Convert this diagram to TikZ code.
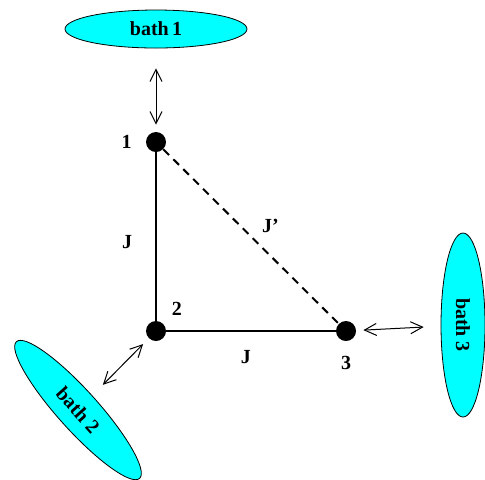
\documentclass[tikz,border=0pt]{standalone}
\usepackage{fontspec}
\setmainfont{Liberation Serif}
\usetikzlibrary{positioning, shapes.geometric, arrows.meta}
\definecolor{bathcyan}{RGB}{0,255,255}
\tikzset{
    site/.style={circle, fill=black, inner sep=0pt, minimum size=10pt},
    bath/.style={ellipse, draw, thin, fill=bathcyan, inner sep=0pt, font=\bfseries\fontsize{10}{12}\selectfont},
    numlabel/.style={font=\bfseries\fontsize{10}{12}\selectfont},
    bond/.style={line width=1.2pt},
    weakbond/.style={line width=1pt, dash pattern=on 4pt off 3pt},
    exchange/.style={{Straight Barb[length=6pt,width=6pt]}-{Straight Barb[length=6pt,width=6pt]}, line width=0.5pt}
}

\begin{document}
\begin{tikzpicture}[x=0.5pt, y=-0.5pt]
    \useasboundingbox (0,0) rectangle (485,479);

    % Sites
    \node [site, label={[numlabel, label distance=3.5pt]left:1}] (s1) at (156,142) {};
    \node [site, label={[numlabel, label distance=1pt]above right:2}] (s2) at (156,331) {};
    \node [site, label={[numlabel, label distance=4pt]below:3}] (s3) at (346,331) {};

    % Baths
    \node [bath, minimum width=91pt, minimum height=19pt] (bath1) at (156,29) {bath\,1};
    \node [bath, minimum width=92pt, minimum height=20pt, rotate=-48] (bath2) at (78,410) {bath 2};
    \node [bath, minimum width=92pt, minimum height=22pt, rotate=-90] (bath3) at (463,325) {bath 3};

    % Couplings
    \draw [bond] (s1) -- node[numlabel, pos=0.53, left=8pt] {J} (s2);
    \draw [bond] (s2) -- node[numlabel, pos=0.47, below=6pt] {J} (s3);
    \draw [weakbond] (s1) -- node[numlabel, pos=0.52, above right] {J'} (s3);

    % Bath contacts
    \draw [exchange, shorten <=10pt, shorten >=3.5pt] (bath1) -- (s1);
    \draw [exchange, shorten <=7.5pt, shorten >=4pt] (bath2) -- (s2);
    \draw [exchange, shorten <=3.5pt, shorten >=8.5pt] (s3) -- (bath3);
\end{tikzpicture}
\end{document}
